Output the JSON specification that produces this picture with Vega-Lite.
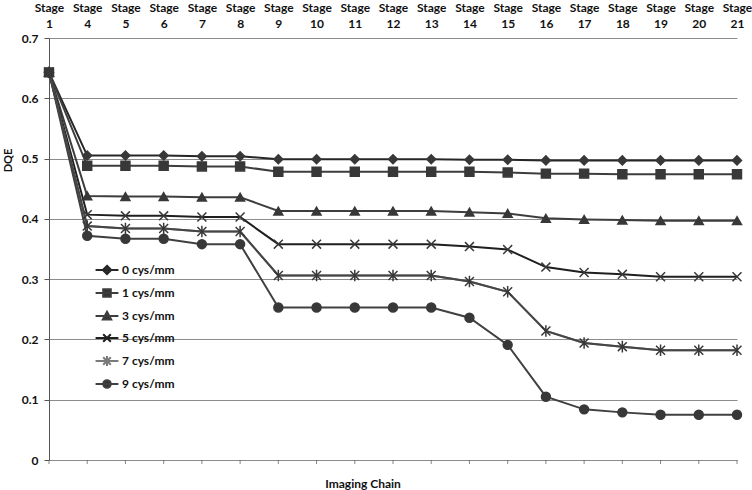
{
  "$schema": "https://vega.github.io/schema/vega-lite/v6.json",
  "width": 688,
  "height": 422,
  "autosize": {"type": "none"},
  "padding": {"left": 49, "top": 38, "right": 15, "bottom": 30},
  "background": "white",
  "title": {
    "text": "Imaging Chain", "orient": "bottom", "anchor": "middle", "dx": -30, "offset": 13,
    "font": "Lato", "fontSize": 12, "fontWeight": "bold", "color": "#111"
  },
  "data": {
    "values": [
      {"stage": "Stage 1", "0 cys/mm": 0.643, "1 cys/mm": 0.643, "3 cys/mm": 0.643, "5 cys/mm": 0.643, "7 cys/mm": 0.643, "9 cys/mm": 0.643},
      {"stage": "Stage 4", "0 cys/mm": 0.505, "1 cys/mm": 0.488, "3 cys/mm": 0.438, "5 cys/mm": 0.407, "7 cys/mm": 0.388, "9 cys/mm": 0.372},
      {"stage": "Stage 5", "0 cys/mm": 0.505, "1 cys/mm": 0.488, "3 cys/mm": 0.437, "5 cys/mm": 0.405, "7 cys/mm": 0.384, "9 cys/mm": 0.367},
      {"stage": "Stage 6", "0 cys/mm": 0.505, "1 cys/mm": 0.488, "3 cys/mm": 0.437, "5 cys/mm": 0.405, "7 cys/mm": 0.384, "9 cys/mm": 0.367},
      {"stage": "Stage 7", "0 cys/mm": 0.504, "1 cys/mm": 0.487, "3 cys/mm": 0.436, "5 cys/mm": 0.403, "7 cys/mm": 0.379, "9 cys/mm": 0.358},
      {"stage": "Stage 8", "0 cys/mm": 0.504, "1 cys/mm": 0.487, "3 cys/mm": 0.436, "5 cys/mm": 0.403, "7 cys/mm": 0.379, "9 cys/mm": 0.358},
      {"stage": "Stage 9", "0 cys/mm": 0.499, "1 cys/mm": 0.478, "3 cys/mm": 0.413, "5 cys/mm": 0.358, "7 cys/mm": 0.306, "9 cys/mm": 0.253},
      {"stage": "Stage 10", "0 cys/mm": 0.499, "1 cys/mm": 0.478, "3 cys/mm": 0.413, "5 cys/mm": 0.358, "7 cys/mm": 0.306, "9 cys/mm": 0.253},
      {"stage": "Stage 11", "0 cys/mm": 0.499, "1 cys/mm": 0.478, "3 cys/mm": 0.413, "5 cys/mm": 0.358, "7 cys/mm": 0.306, "9 cys/mm": 0.253},
      {"stage": "Stage 12", "0 cys/mm": 0.499, "1 cys/mm": 0.478, "3 cys/mm": 0.413, "5 cys/mm": 0.358, "7 cys/mm": 0.306, "9 cys/mm": 0.253},
      {"stage": "Stage 13", "0 cys/mm": 0.499, "1 cys/mm": 0.478, "3 cys/mm": 0.413, "5 cys/mm": 0.358, "7 cys/mm": 0.306, "9 cys/mm": 0.253},
      {"stage": "Stage 14", "0 cys/mm": 0.498, "1 cys/mm": 0.478, "3 cys/mm": 0.411, "5 cys/mm": 0.354, "7 cys/mm": 0.296, "9 cys/mm": 0.236},
      {"stage": "Stage 15", "0 cys/mm": 0.498, "1 cys/mm": 0.477, "3 cys/mm": 0.409, "5 cys/mm": 0.349, "7 cys/mm": 0.279, "9 cys/mm": 0.191},
      {"stage": "Stage 16", "0 cys/mm": 0.497, "1 cys/mm": 0.475, "3 cys/mm": 0.401, "5 cys/mm": 0.320, "7 cys/mm": 0.214, "9 cys/mm": 0.105},
      {"stage": "Stage 17", "0 cys/mm": 0.497, "1 cys/mm": 0.475, "3 cys/mm": 0.399, "5 cys/mm": 0.311, "7 cys/mm": 0.194, "9 cys/mm": 0.084},
      {"stage": "Stage 18", "0 cys/mm": 0.497, "1 cys/mm": 0.474, "3 cys/mm": 0.398, "5 cys/mm": 0.308, "7 cys/mm": 0.188, "9 cys/mm": 0.079},
      {"stage": "Stage 19", "0 cys/mm": 0.497, "1 cys/mm": 0.474, "3 cys/mm": 0.397, "5 cys/mm": 0.304, "7 cys/mm": 0.182, "9 cys/mm": 0.075},
      {"stage": "Stage 20", "0 cys/mm": 0.497, "1 cys/mm": 0.474, "3 cys/mm": 0.397, "5 cys/mm": 0.304, "7 cys/mm": 0.182, "9 cys/mm": 0.075},
      {"stage": "Stage 21", "0 cys/mm": 0.497, "1 cys/mm": 0.474, "3 cys/mm": 0.397, "5 cys/mm": 0.304, "7 cys/mm": 0.182, "9 cys/mm": 0.075}
    ]
  },
  "transform": [
    {"fold": ["0 cys/mm", "1 cys/mm", "3 cys/mm", "5 cys/mm", "7 cys/mm", "9 cys/mm"], "as": ["series", "dqe"]},
    {
      "lookup": "series",
      "from": {
        "data": {"values": [{"name": "0 cys/mm"}, {"name": "1 cys/mm"}, {"name": "3 cys/mm"}, {"name": "5 cys/mm"}, {"name": "7 cys/mm"}, {"name": "9 cys/mm"}]},
        "key": "name", "fields": ["name"]
      },
      "as": ["marker"]
    }
  ],
  "encoding": {
    "x": {
      "field": "stage", "type": "nominal", "sort": null,
      "scale": {"type": "point", "padding": 0},
      "axis": {
        "orient": "top", "title": null, "labelExpr": "split(datum.label, ' ')",
        "ticks": false, "domain": false, "grid": false, "labelAngle": 0,
        "labelPadding": 24, "labelLineHeight": 16,
        "labelFont": "Lato", "labelFontSize": 12, "labelFontWeight": "bold", "labelColor": "#111"
      }
    }
  },
  "layer": [
    {
      "mark": {"type": "line", "strokeWidth": 2},
      "encoding": {
        "y": {
          "field": "dqe", "type": "quantitative", "title": "DQE",
          "scale": {"domain": [0, 0.7], "nice": false},
          "axis": {"values": [0, 0.1, 0.2, 0.3, 0.4, 0.5, 0.6, 0.7], "format": "~g", "grid": true}
        },
        "color": {
          "field": "series", "type": "nominal",
          "scale": {
            "domain": ["0 cys/mm", "1 cys/mm", "3 cys/mm", "5 cys/mm", "7 cys/mm", "9 cys/mm"],
            "range": ["#262626", "#3d3d3d", "#3d3d3d", "#1f1f1f", "#7a7a7a", "#404040"]
          },
          "legend": {
            "orient": "none", "legendX": 52, "legendY": 226, "title": null, "padding": 0,
            "rowPadding": 6, "labelOffset": 9, "symbolSize": 58, "symbolStrokeWidth": 2,
            "labelFont": "Lato", "labelFontSize": 12, "labelFontWeight": "bold", "labelColor": "#111",
            "encode": {
              "symbols": {
                "update": {
                  "shape": {"signal": "datum.value == '0 cys/mm' ? 'M-3,0L3,0M0,-1.1L1.1,0L0,1.1L-1.1,0Z' : datum.value == '1 cys/mm' ? 'M-3,0L3,0M-1,-1L1,-1L1,1L-1,1Z' : datum.value == '3 cys/mm' ? 'M-3,0L3,0M0,-1.1L1.1,0.9L-1.1,0.9Z' : datum.value == '5 cys/mm' ? 'M-3,0L3,0M-1,-1L1,1M-1,1L1,-1' : datum.value == '7 cys/mm' ? 'M-3,0L3,0M-1,-1L1,1M-1,1L1,-1M0,-1.3L0,1.3' : 'M-3,0L3,0M-1,0A1,1 0 1,0 1,0A1,1 0 1,0 -1,0Z'"},
                  "fill": {"signal": "datum.value == '7 cys/mm' ? '#7a7a7a' : '#333333'"},
                  "strokeWidth": {"value": 2}
                }
              }
            }
          }
        },
        "detail": {"field": "series"}
      }
    },
    {
      "mark": {"type": "line", "strokeWidth": 2, "color": "#454545"},
      "transform": [{"filter": "datum.series == '7 cys/mm'"}],
      "encoding": {
        "y": {"field": "dqe", "type": "quantitative", "title": "DQE", "scale": {"domain": [0, 0.7], "nice": false}}
      }
    },
    {
      "mark": {"type": "point", "filled": true, "size": 80, "opacity": 1, "color": "#383838", "stroke": "#383838", "strokeWidth": 1.5},
      "encoding": {
        "y": {"field": "dqe", "type": "quantitative", "title": "DQE", "scale": {"domain": [0, 0.7], "nice": false}},
        "shape": {
          "field": "marker", "type": "nominal", "legend": null,
          "scale": {
            "range": ["diamond", "square", "triangle-up", "M-1,-1L1,1M-1,1L1,-1", "M-1,-1L1,1M-1,1L1,-1M0,-1.3L0,1.3", "circle"]
          }
        },
        "detail": {"field": "series"}
      }
    },
    {
      "mark": {"type": "rule", "color": "#555", "strokeWidth": 1},
      "encoding": {"y": {"datum": 0}}
    },
    {
      "mark": {"type": "tick", "orient": "vertical", "size": 4, "thickness": 1, "color": "#555", "yOffset": 2},
      "transform": [{"filter": "datum.series == '0 cys/mm'"}],
      "encoding": {"y": {"datum": 0}}
    }
  ],
  "config": {
    "view": {"stroke": null},
    "axis": {"grid": false},
    "axisX": {"grid": false},
    "axisY": {
      "grid": true, "gridColor": "#8c8c8c", "gridWidth": 1,
      "domainColor": "#555", "tickColor": "#555", "tickSize": 5, "labelPadding": 6,
      "labelFont": "Lato", "labelFontSize": 12, "labelFontWeight": "bold", "labelColor": "#111",
      "titleFont": "Lato", "titleFontSize": 11, "titleFontWeight": "bold", "titleColor": "#111",
      "titleX": -41, "titleY": 122, "titleAnchor": null, "titleAlign": "center", "titleBaseline": "middle"
    }
  }
}
